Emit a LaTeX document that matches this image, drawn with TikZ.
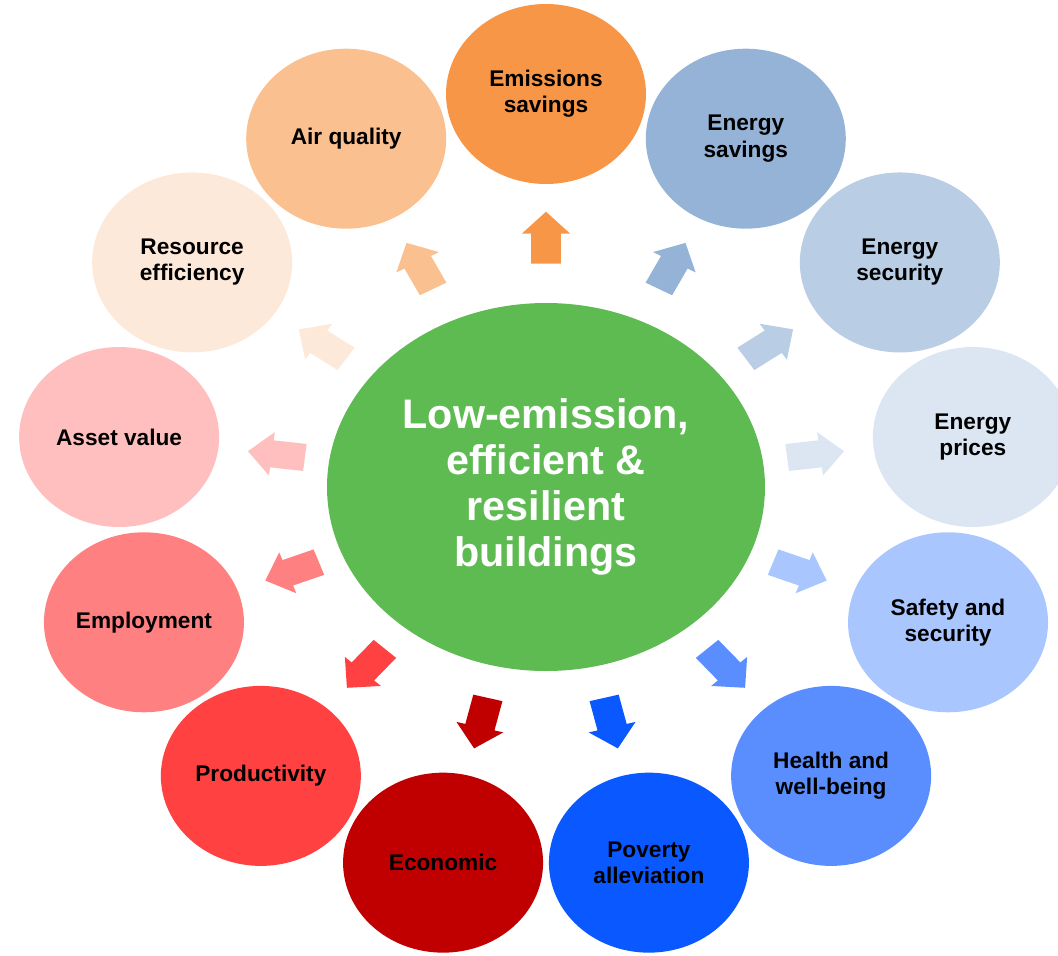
\documentclass[tikz,border=0pt]{standalone}
\usepackage{fontspec}
\setmainfont{Liberation Sans}
\usetikzlibrary{shapes,arrows,positioning}

\definecolor{hubgreen}{HTML}{5EBB52}
\definecolor{emis}{HTML}{F79646}
\definecolor{ensav}{HTML}{95B3D7}
\definecolor{ensec}{HTML}{B9CDE5}
\definecolor{enpri}{HTML}{DCE6F2}
\definecolor{safe}{HTML}{AAC6FF}
\definecolor{health}{HTML}{5A8EFF}
\definecolor{pov}{HTML}{0A58FF}
\definecolor{econ}{HTML}{C00000}
\definecolor{prod}{HTML}{FF4141}
\definecolor{empl}{HTML}{FF8080}
\definecolor{asset}{HTML}{FFBFBF}
\definecolor{resef}{HTML}{FDE9D9}
\definecolor{airq}{HTML}{FAC090}

\begin{document}
\begin{tikzpicture}[
goal/.style={ellipse,draw=none,inner sep=0pt,minimum width=4cm,
    minimum height=3.6cm,align=center,text=black,
    font=\fontsize{12.9}{14.9}\selectfont\bfseries},
core/.style={ellipse,draw=none,fill=hubgreen,inner sep=0pt,
    minimum width=8.76cm,minimum height=7.36cm,align=center,text=white,
    font=\fontsize{23.5}{26.2}\selectfont\bfseries},
arr/.style={single arrow,draw=none,inner xsep=0pt,inner ysep=0.265cm,
    minimum height=1.04cm,single arrow head extend=0.165cm,
    single arrow tip angle=90}]

\useasboundingbox (-10.92,-9.42) rectangle (10.24,9.68);

\node[core] (bldg) at (0,-0.06) {Low-emission,\\efficient \&\\resilient\\buildings};

\node[goal,fill=emis]   (emis)   at (90:8.6 and 7.8)      {Emissions\\savings};
\node[goal,fill=ensav]  (ensav)  at (62.31:8.6 and 7.8)   {Energy\\savings};
\node[goal,fill=ensec]  (ensec)  at (34.62:8.6 and 7.8)   {Energy\\security};
\node[goal,fill=enpri]  (enpri)  at (6.92:8.6 and 7.8)    {Energy\\prices};
\node[goal,fill=safe]   (safe)   at (-20.77:8.6 and 7.8)  {Safety and\\security};
\node[goal,fill=health] (health) at (-48.46:8.6 and 7.8)  {Health and\\well-being};
\node[goal,fill=pov]    (pov)    at (-76.15:8.6 and 7.8)  {Poverty\\alleviation};
\node[goal,fill=econ]   (econ)   at (-103.85:8.6 and 7.8) {Economic};
\node[goal,fill=prod]   (prod)   at (-131.54:8.6 and 7.8) {Productivity};
\node[goal,fill=empl]   (empl)   at (-159.23:8.6 and 7.8) {Employment};
\node[goal,fill=asset]  (asset)  at (173.08:8.6 and 7.8)  {Asset value};
\node[goal,fill=resef]  (resef)  at (145.38:8.6 and 7.8)  {Resource\\efficiency};
\node[goal,fill=airq]   (airq)   at (117.69:8.6 and 7.8)  {Air quality};

% block arrows, stretched sideways like the ring
\begin{scope}[xscale=1.1026,transform shape]
\node[arr,fill=emis,rotate=90]        (a1)  at (90:4.79)      {};
\node[arr,fill=ensav,rotate=62.31]    (a2)  at (62.31:4.79)   {};
\node[arr,fill=ensec,rotate=34.62]    (a3)  at (34.62:4.79)   {};
\node[arr,fill=enpri,rotate=6.92]     (a4)  at (6.92:4.79)    {};
\node[arr,fill=safe,rotate=-20.77]    (a5)  at (-20.77:4.79)  {};
\node[arr,fill=health,rotate=-48.46]  (a6)  at (-48.46:4.79)  {};
\node[arr,fill=pov,rotate=-76.15]     (a7)  at (-76.15:4.79)  {};
\node[arr,fill=econ,rotate=-103.85]   (a8)  at (-103.85:4.79) {};
\node[arr,fill=prod,rotate=-131.54]   (a9)  at (-131.54:4.79) {};
\node[arr,fill=empl,rotate=-159.23]   (a10) at (-159.23:4.79) {};
\node[arr,fill=asset,rotate=173.08]   (a11) at (173.08:4.79)  {};
\node[arr,fill=resef,rotate=145.38]   (a12) at (145.38:4.79)  {};
\node[arr,fill=airq,rotate=117.69]    (a13) at (117.69:4.79)  {};
\end{scope}

\end{tikzpicture}
\end{document}
